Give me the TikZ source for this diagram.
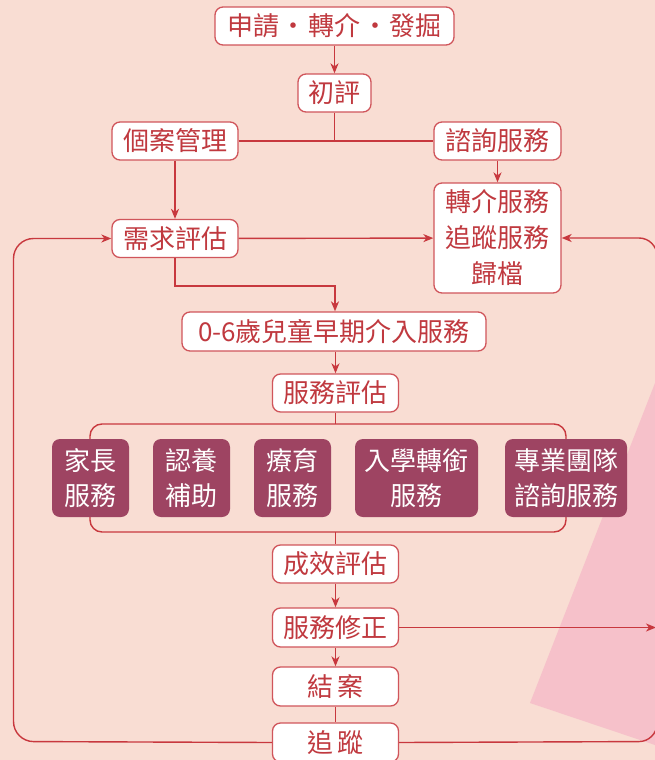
\documentclass[tikz,border=0pt]{standalone}
\usepackage{fontspec}
\newfontfamily\cjk{Noto Sans CJK TC}
\usetikzlibrary{arrows.meta}
\definecolor{bgc}{HTML}{F9DDD3}
\definecolor{pinkc}{HTML}{F6C1CA}
\definecolor{linec}{HTML}{C8383E}
\definecolor{borderc}{HTML}{D0555B}
\definecolor{textc}{HTML}{C0393F}
\definecolor{purplec}{HTML}{9E4462}
\tikzset{
  wbox/.style={draw=borderc, line width=1.3pt, fill=white, rounded corners=8pt,
    text=textc, font=\cjk\fontsize{26pt}{36pt}\selectfont, inner sep=0pt,
    minimum height=38pt, align=center},
  pbox/.style={fill=purplec, rounded corners=8pt, text=white,
    font=\cjk\fontsize{26pt}{35pt}\selectfont, inner sep=0pt,
    minimum height=78pt, align=center},
  conn/.style={draw=linec, line width=1.4pt},
  arr/.style={conn, -{Stealth[length=10pt,width=8pt,inset=3pt]}},
}
\begin{document}
\begin{tikzpicture}[x=1pt,y=-1pt]
\useasboundingbox (0,0) rectangle (655,760);
\fill[bgc] (0,0) rectangle (655,760);
\fill[pinkc] (655,383) -- (530,703) -- (655,745) -- cycle;

% bracket frame behind purple boxes
\draw[conn, rounded corners=12pt] (90,424) rectangle (566,532);

% nodes
\node[wbox, minimum width=239pt] (n1) at (334.5,26) {申請\hspace{1.5pt}·\hspace{1.5pt}轉介\hspace{1.5pt}·\hspace{1.5pt}發掘};
\node[wbox, minimum width=73pt] (n2) at (334.5,93) {初評};
\node[wbox, minimum width=126pt] (n3) at (175,141) {個案管理};
\node[wbox, minimum width=127pt] (n4) at (497.5,141) {諮詢服務};
\node[wbox, minimum width=126pt] (n5) at (175,238.5) {需求評估};
\node[wbox, minimum width=127pt, minimum height=110pt] (n6) at (497.5,238) {轉介服務\\追蹤服務\\歸檔};
\node[wbox, minimum width=304pt, minimum height=39pt] (n7) at (334,331.5) {0-6歲兒童早期介入服務};
\node[wbox, minimum width=126pt] (n8) at (335.5,393) {服務評估};

\node[pbox, minimum width=77pt] (p1) at (90.5,478) {家長\\服務};
\node[pbox, minimum width=77pt] (p2) at (191.5,478) {認養\\補助};
\node[pbox, minimum width=77pt] (p3) at (292.5,478) {療育\\服務};
\node[pbox, minimum width=123pt] (p4) at (416.5,478) {入學轉銜\\服務};
\node[pbox, minimum width=122pt] (p5) at (566,478) {專業團隊\\諮詢服務};

\node[wbox, minimum width=126pt] (n9) at (335.5,564) {成效評估};
\node[wbox, minimum width=126pt, minimum height=39pt] (n10) at (335.5,627.5) {服務修正};
\node[wbox, minimum width=126pt, minimum height=39pt] (n11) at (335.5,686.5) {結\hspace{4pt}案};
\node[wbox, minimum width=126pt, minimum height=39pt] (n12) at (335.5,742.5) {追\hspace{4pt}蹤};

\coordinate (j1) at (n2.south |- n3.east);
\coordinate (fr1) at (335.5,424);
\coordinate (fr2) at (335.5,532);

% connectors
\draw[arr] (n1) -- (n2);
\draw[conn] (n2) -- (j1);
\draw[conn] (n3) -- (n4);
\draw[arr] (n3) -- (n5);
\draw[arr] (n4) -- (n6);
\draw[arr] (n5) -- (n6);
\draw[arr] (n5.south) |- (335,286) -- (n7.north -| 335,0);
\draw[arr] (n7.south -| n8.north) -- (n8);
\draw[conn] (n8) -- (fr1);
\draw[conn] (fr2) -- (n9);
\draw[arr] (n9) -- (n10);
\draw[arr] (n10) -- (n11);
\draw[conn] (n11) -- (n12);
\draw[arr, rounded corners=20pt] (n12.west) -- (13.5,741.5) -- (13.5,238.5) -- (n5.west);
\draw[arr, rounded corners=18pt] (n12.east) -- (657,741.5) -- (657,238) -- (n6.east);
\draw[arr] (n10.east) -- (656,627.5);
\end{tikzpicture}
\end{document}
